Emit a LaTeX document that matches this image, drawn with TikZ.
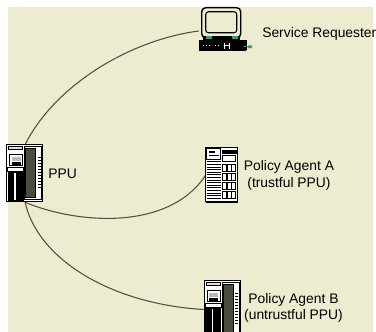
\documentclass[tikz,border=0pt]{standalone}
\usepackage{fontspec}
\setmainfont{Liberation Sans}

\definecolor{paper}{RGB}{237,236,208}
\definecolor{wire}{RGB}{80,80,70}
\definecolor{panel}{RGB}{76,77,63}
\definecolor{led}{RGB}{40,165,105}

\tikzset{
    unit/.style={inner sep=0pt, minimum width=#1},
    caption/.style={font=\fontsize{10.4}{12.75}\selectfont, inner sep=0pt},
    link/.style={draw=wire, line width=0.8pt}
}

% tower case, 36 x 57, drawn from its top left corner
\newcommand{\towercase}{%
    \draw[fill=white, line width=0.7pt] (0,0) rectangle (36,57);
    \draw[fill=gray!25] (2,2) rectangle (16,5);
    \draw[fill=white, line width=0.9pt] (3,10) rectangle (16,21);
    \fill[gray!55] (5,12) rectangle (14,16);
    \fill (5,17) rectangle (14,20);
    \draw (1,23) rectangle (17,27);
    \fill (1,27) rectangle (17,56);
    \fill[white] (7.5,28) rectangle (9,55);
    \draw[fill=panel] (19,4) rectangle (29,53);
    \draw (18,2) rectangle (35,55);
    \foreach \k in {0,...,10}
        \fill (31,12+3*\k) rectangle (34,13.3+3*\k);
}

% rack server, 32 x 54
\newcommand{\rackcase}{%
    \draw[fill=white, line width=0.8pt] (0,0) rectangle (32,54);
    \draw (1,1) rectangle (15,12);
    \fill (3,3) rectangle (9,5.5);
    \draw (3,8) -- (13,8);
    \foreach \k in {0,...,14}
        \draw (1,14+2.6*\k) -- (15,14+2.6*\k);
    \fill (16,2) rectangle (31,6);
    \draw[line width=0.9pt] (17,8) rectangle (30,14);
    \foreach \i in {0,1,2}
        \foreach \j in {0,1,2,3}
            \draw[line width=0.7pt] (16.5+4.8*\i,17+9*\j) rectangle (20.5+4.8*\i,24+9*\j);
    \draw[line width=1.4pt] (0,54) -- (32,54);
}

% desktop computer, 48 x 44
\newcommand{\desktop}{%
    \draw[line width=1.1pt, rounded corners=3pt] (3,-1) rectangle (42,29);
    \draw[line width=0.8pt, rounded corners=2pt] (7,3) rectangle (38,24);
    \fill (4,27) rectangle (41,31);
    \fill[led] (7,27.5) rectangle (13,30.5);
    \fill[led] (33,27.5) rectangle (39,30.5);
    \fill (0,31) rectangle (48,42);
    \foreach \x in {4,7,10,16,19}
        \fill[white] (\x,36) rectangle (\x+1.5,37);
    \draw[white, line width=0.8pt] (26,34) -- (26,40) (31,34) -- (31,40) (26,37) -- (31,37);
    \fill[led] (51,38) ellipse (2.6 and 1.6);
    \draw[led!40] (48,37) -- (45,38) (49,41) -- (46,43);
}

\begin{document}
\begin{tikzpicture}[x=0.75pt, y=-0.75pt]
    \useasboundingbox (0,0) rectangle (376,332);
    \fill[white] (0,0) rectangle (376,332);
    \fill[paper] (8,7) rectangle (373,332);

    \node (ppu) [unit=27pt, minimum height=42.75pt] at (25,173.5) {};
    \node (requester) [unit=36pt, minimum height=33pt] at (223,31) {};
    \node (agentA) [unit=24pt, minimum height=40.5pt] at (222,175) {};
    \node (agentB) [unit=27pt, minimum height=42.75pt] at (222.5,309.5) {};

    % links from the PPU
    \draw[link] (ppu.north) .. controls (55,85) and (130,40) .. (requester.west);
    \draw[link] (ppu.south) .. controls (80,225) and (170,230) .. (agentA.west);
    \draw[link] (ppu.south) .. controls (40,265) and (120,305) .. (agentB.west);

    \begin{scope}[shift={(ppu.north west)}] \towercase \end{scope}
    \begin{scope}[shift={(agentB.north west)}] \towercase \end{scope}
    \begin{scope}[shift={(agentA.north west)}] \rackcase \end{scope}
    \begin{scope}[shift={(requester.north west)}] \desktop \end{scope}

    \node (ppuname) [caption, anchor=base west] at (48,178) {PPU};
    \node (reqname) [caption, anchor=base west] at (262,37) {Service Requester};
    \node (agentAname) [caption, anchor=base, align=center] at (289,187) {Policy Agent A\\(trustful PPU)};
    \node (agentBname) [caption, anchor=base, align=center] at (293.5,320) {Policy Agent B\\(untrustful PPU)};
\end{tikzpicture}
\end{document}
